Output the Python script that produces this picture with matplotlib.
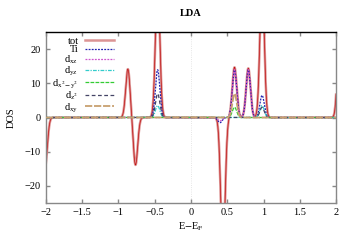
import numpy as np
import matplotlib
matplotlib.use("Agg")
import matplotlib.pyplot as plt

plt.rcParams['font.family'] = ['Liberation Serif', 'DejaVu Serif']
plt.rcParams['mathtext.fontset'] = 'stix'

# Energy range (eV relative to E_F)
e_min, e_max = -2.0, 2.0

# Peaks: centres (eV), heights (states/eV); negative = spin down
tot_centers = [-2.12, -2.01, -0.87, -0.765, -0.46, 0.44, 0.60, 0.79, 0.98, 2.05]
tot_heights = [9.0, -14.0, 14.2, -13.9, 40.0, -40.0, 14.7, 14.4, 40.0, 27.0]

ti_centers = [-0.46, 0.40, 0.60, 0.79, 0.98]
ti_heights = [14.0, -1.5, 14.0, 14.0, 6.5]

dxz_centers = [0.40, 0.60, 0.79]
dxz_heights = [-1.0, 14.0, 14.0]

dyz_centers = [-0.46, 0.98]
dyz_heights = [3.5, 3.5]

dx2y2_centers = [0.60]
dx2y2_heights = [3.0]

dz2_centers = [-0.46, 0.98]
dz2_heights = [7.0, 3.0]

dxy_centers = [0.60]
dxy_heights = [7.0]

peak_width = 0.03

energy = np.linspace(e_min, e_max, 1601)


def dos(centers, heights):
    y = np.zeros_like(energy)
    for c, h in zip(centers, heights):
        y += h * np.exp(-0.5 * ((energy - c) / peak_width) ** 2)
    return y


fig = plt.figure(figsize=(3.56, 2.49), dpi=100)
ax = fig.add_axes([0.129, 0.185, 0.815, 0.686])

ax.axvline(0, color='#dddddd', lw=0.6, ls=':', zorder=0)

tot = dos(tot_centers, tot_heights)
ax.plot(energy, tot, color='#dc9494', lw=1.8, label='tot', zorder=2)
ax.plot(energy, tot, color='#c01010', lw=0.5, zorder=2.1)

ax.plot(energy, dos(ti_centers, ti_heights), color='#2020b0', lw=0.9,
        ls=(0, (1.5, 1)), label='Ti', zorder=3)
ax.plot(energy, dos(dxz_centers, dxz_heights), color='#cc55cc', lw=0.9,
        ls=(0, (1.5, 1)), label=r'd$_{\rm xz}$', zorder=3)
ax.plot(energy, dos(dyz_centers, dyz_heights), color='#33cccc', lw=0.9,
        ls=(0, (3, 1, 1, 1)), label=r'd$_{\rm yz}$', zorder=3)
ax.plot(energy, dos(dx2y2_centers, dx2y2_heights), color='#33cc33', lw=0.9,
        ls=(0, (3, 1)), label=r'd$_{\rm x^2\!-y^2}$', zorder=3)
ax.plot(energy, dos(dz2_centers, dz2_heights), color='#444466', lw=0.9,
        ls=(0, (3, 2)), label=r'd$_{\rm z^2}$', zorder=3)
ax.plot(energy, dos(dxy_centers, dxy_heights), color='#c8a070', lw=1.3,
        ls=(0, (4, 1)), label=r'd$_{\rm xy}$', zorder=3)

ax.set_xlim(e_min, e_max)
ax.set_ylim(-25, 25)
ax.set_xticks([-2, -1.5, -1, -0.5, 0, 0.5, 1, 1.5, 2])
ax.set_xticklabels(['\u22122', '\u22121.5', '\u22121', '\u22120.5', '0', '0.5', '1', '1.5', '2'])
ax.set_yticks([-20, -10, 0, 10, 20])
ax.set_yticklabels(['\u221220', '\u221210', '0', '10', '20'])
ax.tick_params(direction='in', length=3, width=1, color='#888888',
               top=True, right=True, labelsize=7.5, pad=4)

for s in ['left', 'bottom', 'right']:
    ax.spines[s].set_color('#888888')
    ax.spines[s].set_linewidth(1.0)
ax.spines['top'].set_color('black')
ax.spines['top'].set_linewidth(1.0)

ax.set_xlabel(r'E$-$E$_{\rm F}$', fontsize=7.5, labelpad=2)
ax.set_ylabel('DOS', fontsize=7.5, labelpad=6)
fig.text(0.537, 0.962, 'LDA', ha='center', va='top', fontsize=7.5, fontweight='bold')

leg = ax.legend(loc='upper left', bbox_to_anchor=(0.0, 1.01), frameon=False,
                markerfirst=False, fontsize=7.5, handlelength=2.8,
                labelspacing=-0.08, handletextpad=0.6, borderaxespad=0.2)
for t in leg.get_texts():
    t.set_ha('right')
leg._legend_box.align = 'right'

fig.savefig('out.png', dpi=100)
